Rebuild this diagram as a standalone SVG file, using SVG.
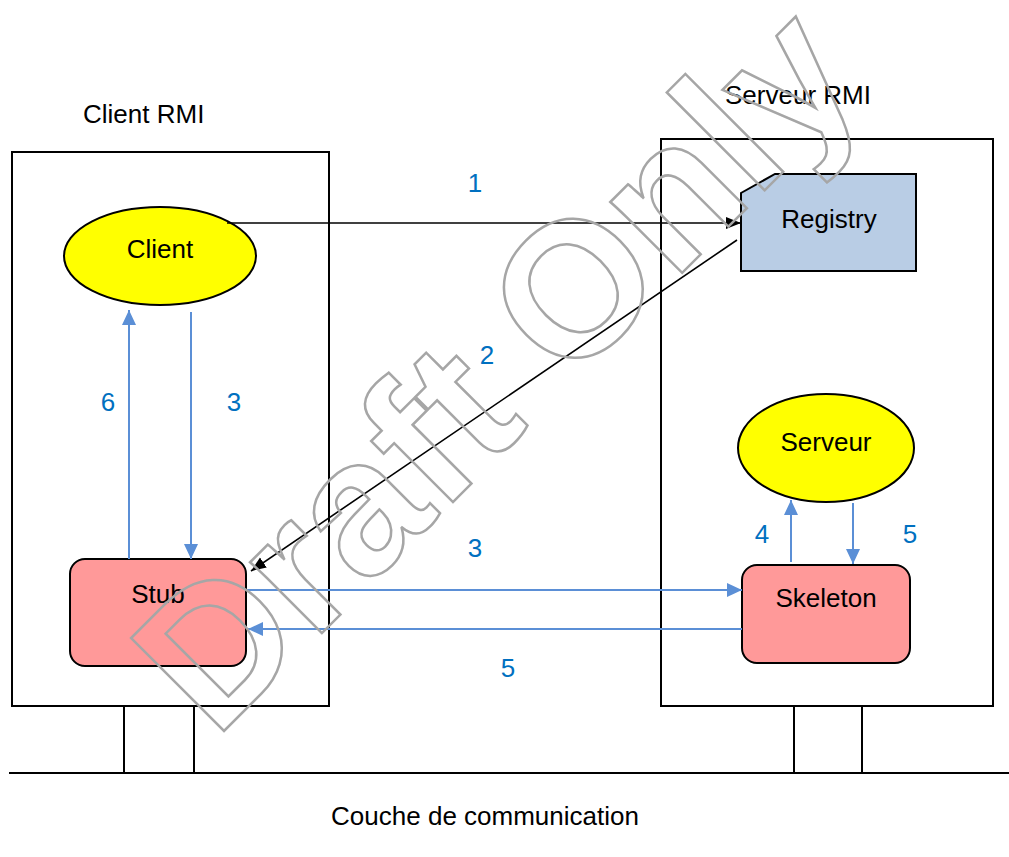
<svg xmlns="http://www.w3.org/2000/svg" width="1009" height="857" viewBox="0 0 1009 857">
<style>
.t{font-family:"Liberation Sans",Arial,sans-serif;font-size:26px;fill:#000}
.n{font-family:"Liberation Sans",Arial,sans-serif;font-size:26px;fill:#0070C0}
.box{fill:#fff;stroke:#000;stroke-width:2}
.ln{stroke:#000;stroke-width:2;fill:none}
.bk{stroke:#000;stroke-width:1.6;fill:none}
.bl{stroke:#5B8FD6;stroke-width:2;fill:none}
.wm{font-family:"Liberation Sans",Arial,sans-serif;font-weight:bold;font-size:191px;fill:none;stroke:#A6A6A6;stroke-width:2.5}
</style>
<defs>
<marker id="ak" markerUnits="userSpaceOnUse" markerWidth="16" markerHeight="14" refX="15" refY="6" orient="auto"><path d="M0,0 L15,6 L0,12 z" fill="#000"/></marker>
<marker id="ab" markerUnits="userSpaceOnUse" markerWidth="16" markerHeight="16" refX="15" refY="7" orient="auto"><path d="M0,0 L15,7 L0,14 z" fill="#5B8FD6"/></marker>
</defs>
<rect width="1009" height="857" fill="#fff"/>
<g id="client-rmi">
<rect class="box" x="12" y="152" width="317" height="554"/>
<text class="t" x="83" y="123">Client RMI</text>
</g>
<g id="serveur-rmi">
<rect class="box" x="661" y="139" width="332" height="567"/>
<text class="t" x="725" y="104">Serveur RMI</text>
</g>
<g id="communication">
<line class="ln" x1="9" y1="773" x2="1009" y2="773"/>
<line class="ln" x1="124" y1="706" x2="124" y2="773"/>
<line class="ln" x1="194" y1="706" x2="194" y2="773"/>
<line class="ln" x1="794" y1="706" x2="794" y2="773"/>
<line class="ln" x1="862" y1="706" x2="862" y2="773"/>
<text class="t" x="485" y="825" text-anchor="middle">Couche de communication</text>
</g>
<g id="client">
<ellipse cx="160" cy="256" rx="96" ry="49" fill="#FFFF00" stroke="#000" stroke-width="2"/>
<text class="t" x="160" y="258" text-anchor="middle">Client</text>
</g>
<g id="registry">
<path d="M741,193 L775,174 L916,174 L916,271 L741,271 Z" fill="#B9CDE5" stroke="#000" stroke-width="2"/>
<text class="t" x="829" y="228" text-anchor="middle">Registry</text>
</g>
<g id="serveur">
<ellipse cx="826" cy="448" rx="88" ry="54" fill="#FFFF00" stroke="#000" stroke-width="2"/>
<text class="t" x="826" y="451" text-anchor="middle">Serveur</text>
</g>
<g id="stub">
<rect x="70" y="559" width="176" height="107" rx="15" fill="#FF9999" stroke="#000" stroke-width="2"/>
<text class="t" x="158" y="603" text-anchor="middle">Stub</text>
</g>
<g id="skeleton">
<rect x="742" y="565" width="168" height="98" rx="15" fill="#FF9999" stroke="#000" stroke-width="2"/>
<text class="t" x="826" y="607" text-anchor="middle">Skeleton</text>
</g>
<g id="connectors">
<path class="bk" d="M227,223 H741" marker-end="url(#ak)"/>
<path class="bk" d="M737,240 L251,571" marker-end="url(#ak)"/>
<path class="bl" d="M191,312 V559" marker-end="url(#ab)"/>
<path class="bl" d="M129,559 V310" marker-end="url(#ab)"/>
<path class="bl" d="M246,590 H742" marker-end="url(#ab)"/>
<path class="bl" d="M742,629 H248" marker-end="url(#ab)"/>
<path class="bl" d="M791,562 V500" marker-end="url(#ab)"/>
<path class="bl" d="M853,503 V564" marker-end="url(#ab)"/>
<text class="n" x="475" y="192" text-anchor="middle">1</text>
<text class="n" x="487" y="364" text-anchor="middle">2</text>
<text class="n" x="234" y="411" text-anchor="middle">3</text>
<text class="n" x="108" y="411" text-anchor="middle">6</text>
<text class="n" x="475" y="557" text-anchor="middle">3</text>
<text class="n" x="508" y="677" text-anchor="middle">5</text>
<text class="n" x="762" y="543" text-anchor="middle">4</text>
<text class="n" x="910" y="543" text-anchor="middle">5</text>
</g>
<g id="watermark">
<text class="wm" transform="translate(215,740) rotate(-45)">Draft Only</text>
</g>
</svg>
